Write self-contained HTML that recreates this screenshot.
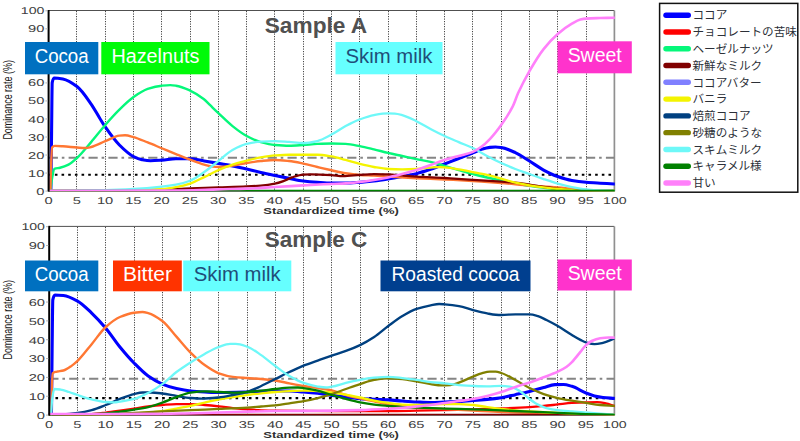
<!DOCTYPE html>
<html lang="en">
<head>
<meta charset="utf-8">
<title>TDS curves – Sample A / Sample C</title>
<style>
html,body{margin:0;padding:0;background:#fff;}
body{width:800px;height:441px;overflow:hidden;font-family:"Liberation Sans",sans-serif;}
svg{display:block;}
text{font-family:"Liberation Sans",sans-serif;}
.grid{stroke:#444;stroke-width:1;stroke-dasharray:1.2 1.3;}
.cv{fill:none;stroke-width:2.3;stroke-linejoin:round;stroke-linecap:round;}
.sig20{stroke:#858585;stroke-width:2.0;stroke-dasharray:9.2 3.9 2.6 4.2;}
.sig10{stroke:#000;stroke-width:2.2;stroke-dasharray:2.6 4.07;}
.tk{font-size:9.9px;fill:#404040;text-rendering:geometricPrecision;}
.xl{font-size:9.4px;font-weight:bold;fill:#2e2e2e;}
.yl{font-size:12.4px;fill:#161616;}
.tt{font-size:21.5px;font-weight:bold;fill:#505050;}
.bx{}
.lg{font-family:"Liberation Sans","Noto Sans CJK JP",sans-serif;font-size:11.6px;fill:#2c3038;}
</style>
</head>
<body>
<svg width="800" height="441" viewBox="0 0 800 441">
<rect width="800" height="441" fill="#fff"/>
<g id="chartA">
<line x1="76.5" y1="11" x2="76.5" y2="190.80" class="grid"/>
<line x1="105.5" y1="11" x2="105.5" y2="190.80" class="grid"/>
<line x1="133.5" y1="11" x2="133.5" y2="190.80" class="grid"/>
<line x1="161.5" y1="11" x2="161.5" y2="190.80" class="grid"/>
<line x1="190.5" y1="11" x2="190.5" y2="190.80" class="grid"/>
<line x1="218.5" y1="11" x2="218.5" y2="190.80" class="grid"/>
<line x1="246.5" y1="11" x2="246.5" y2="190.80" class="grid"/>
<line x1="274.5" y1="11" x2="274.5" y2="190.80" class="grid"/>
<line x1="303.5" y1="11" x2="303.5" y2="190.80" class="grid"/>
<line x1="331.5" y1="11" x2="331.5" y2="190.80" class="grid"/>
<line x1="359.5" y1="11" x2="359.5" y2="190.80" class="grid"/>
<line x1="388.5" y1="11" x2="388.5" y2="190.80" class="grid"/>
<line x1="416.5" y1="11" x2="416.5" y2="190.80" class="grid"/>
<line x1="444.5" y1="11" x2="444.5" y2="190.80" class="grid"/>
<line x1="472.5" y1="11" x2="472.5" y2="190.80" class="grid"/>
<line x1="501.5" y1="11" x2="501.5" y2="190.80" class="grid"/>
<line x1="529.5" y1="11" x2="529.5" y2="190.80" class="grid"/>
<line x1="557.5" y1="11" x2="557.5" y2="190.80" class="grid"/>
<line x1="586.5" y1="11" x2="586.5" y2="190.80" class="grid"/>
<line x1="47.70" y1="10.50" x2="614.30" y2="10.50" stroke="#505050" stroke-width="1"/>
<line x1="614.40" y1="10.50" x2="614.40" y2="191.30" stroke="#909090" stroke-width="1.7"/>
<line x1="48.70" y1="191.10" x2="614.30" y2="191.10" stroke="#202020" stroke-width="1"/>
<line x1="48.70" y1="157.71" x2="614.30" y2="157.71" class="sig20"/>
<line x1="48.20" y1="174.75" x2="614.30" y2="174.75" class="sig10"/>
<clipPath id="clip10"><rect x="47.70" y="10.50" width="567.10" height="180.75"/></clipPath>
<g clip-path="url(#clip10)">
<path d="M50.85 190.80C51.08 172.77 51.30 154.74 51.53 136.71C51.75 118.68 51.98 83.77 52.21 82.62C52.92 78.98 53.64 77.93 54.36 77.93C57.18 77.93 60.01 78.46 62.84 79.01C67.55 79.94 72.27 83.06 76.98 86.59C81.69 90.11 86.41 97.36 91.12 104.08C93.95 108.11 96.78 113.40 99.60 117.96C101.49 121.00 103.37 124.26 105.26 126.97C109.97 133.76 114.69 140.31 119.40 145.00C124.11 149.69 128.83 154.26 133.54 156.54C136.37 157.92 139.20 159.08 142.02 159.61C144.85 160.14 147.68 160.69 150.51 160.69C154.28 160.69 158.05 160.39 161.82 160.15C166.53 159.85 171.25 158.71 175.96 158.71C180.67 158.71 185.39 158.71 190.10 158.71C194.81 158.71 199.53 160.27 204.24 161.05C208.95 161.83 213.67 162.58 218.38 163.39C223.09 164.20 227.81 165.00 232.52 165.92C237.23 166.84 241.95 167.91 246.66 168.98C251.37 170.06 256.09 171.33 260.80 172.41C265.51 173.49 270.23 174.48 274.94 175.47C279.65 176.47 284.37 177.43 289.08 178.36C293.79 179.29 298.51 180.49 303.22 181.06C307.93 181.64 312.65 182.02 317.36 182.33C322.07 182.63 326.79 183.05 331.50 183.05C336.21 183.05 340.93 183.05 345.64 183.05C350.35 183.05 355.07 182.63 359.78 182.33C364.49 182.02 369.21 181.58 373.92 181.06C378.63 180.55 383.35 179.82 388.06 179.08C392.77 178.34 397.49 177.45 402.20 176.56C406.91 175.66 411.63 174.83 416.34 173.67C421.05 172.52 425.77 170.95 430.48 169.34C435.19 167.74 439.91 165.74 444.62 163.94C449.33 162.13 454.05 160.36 458.76 158.53C463.47 156.69 468.19 154.87 472.90 152.94C475.73 151.78 478.56 150.18 481.38 149.33C484.21 148.48 487.04 147.62 489.87 147.35C491.75 147.17 493.64 146.99 495.52 146.99C497.41 146.99 499.29 147.27 501.18 147.53C505.89 148.18 510.61 150.47 515.32 152.58C520.03 154.69 524.75 158.14 529.46 161.05C534.17 163.96 538.89 167.55 543.60 170.07C548.31 172.58 553.03 174.91 557.74 176.56C562.45 178.20 567.17 179.70 571.88 180.52C576.59 181.35 581.31 181.93 586.02 182.33C590.73 182.73 595.45 182.96 600.16 183.23C604.87 183.49 609.59 183.71 614.30 183.95" class="cv" stroke="#0000ff" style="stroke-width:3.1"/>
<path d="M50.40 190.80C50.96 186.59 51.53 181.23 52.09 178.18C52.85 174.11 53.60 169.12 54.36 168.80C56.24 168.01 58.13 168.18 60.01 167.72C62.84 167.03 65.67 166.06 68.50 164.66C71.32 163.26 74.15 160.56 76.98 157.99C81.69 153.69 86.41 147.61 91.12 142.12C95.83 136.63 100.55 130.38 105.26 124.99C109.97 119.60 114.69 114.28 119.40 109.67C124.11 105.05 128.83 100.34 133.54 97.04C138.25 93.75 142.97 90.48 147.68 88.93C152.39 87.39 157.11 86.13 161.82 85.69C164.65 85.42 167.48 85.14 170.30 85.14C172.19 85.14 174.07 85.42 175.96 85.69C180.67 86.34 185.39 88.46 190.10 90.55C194.62 92.57 199.15 95.52 203.67 99.03C205.75 100.64 207.82 102.99 209.90 104.98C212.72 107.68 215.55 110.44 218.38 113.09C223.09 117.51 227.81 122.32 232.52 126.07C237.23 129.82 241.95 133.46 246.66 135.99C251.37 138.51 256.09 140.81 260.80 142.12C265.51 143.43 270.23 144.62 274.94 145.00C279.65 145.39 284.37 145.73 289.08 145.73C293.79 145.73 298.51 145.29 303.22 145.00C307.93 144.72 312.65 144.10 317.36 143.92C322.07 143.74 326.79 143.56 331.50 143.56C336.21 143.56 340.93 143.72 345.64 143.92C350.35 144.13 355.07 145.22 359.78 146.09C364.49 146.95 369.21 148.19 373.92 149.33C378.63 150.47 383.35 151.83 388.06 152.94C392.77 154.04 397.49 154.98 402.20 156.00C406.91 157.02 411.63 158.08 416.34 159.07C421.05 160.06 425.77 160.84 430.48 161.95C435.19 163.07 439.91 164.57 444.62 165.92C449.33 167.27 454.05 168.71 458.76 170.07C463.47 171.42 468.19 172.81 472.90 174.03C477.61 175.26 482.33 176.38 487.04 177.46C491.75 178.54 496.47 179.53 501.18 180.52C505.89 181.51 510.61 182.51 515.32 183.41C520.03 184.31 524.75 185.23 529.46 185.93C534.17 186.63 538.89 187.20 543.60 187.73C548.31 188.27 553.03 188.77 557.74 189.18C562.45 189.59 567.17 190.02 571.88 190.26C576.59 190.50 581.31 190.80 586.02 190.80C595.45 190.80 604.87 190.80 614.30 190.80" class="cv" stroke="#05f77a" style="stroke-width:2.4"/>
<path d="M50.40 190.80C50.62 182.39 50.85 171.12 51.08 165.56C51.41 157.22 51.75 147.97 52.09 147.53C53.04 146.30 53.98 145.91 54.92 145.91C57.56 145.91 60.20 146.11 62.84 146.27C67.55 146.54 72.27 147.18 76.98 147.53C79.81 147.74 82.64 148.07 85.46 148.07C87.35 148.07 89.23 147.45 91.12 146.99C95.83 145.82 100.55 143.11 105.26 141.22C109.97 139.32 114.69 136.10 119.40 135.63C121.29 135.44 123.17 135.27 125.06 135.27C127.88 135.27 130.71 136.32 133.54 137.07C138.25 138.33 142.97 140.62 147.68 142.48C152.39 144.34 157.11 146.33 161.82 148.25C166.53 150.17 171.25 152.13 175.96 154.02C180.67 155.91 185.39 157.84 190.10 159.61C194.81 161.38 199.53 163.35 204.24 164.66C207.07 165.44 209.90 166.37 212.72 166.64C214.61 166.82 216.49 167.00 218.38 167.00C223.09 167.00 227.81 166.17 232.52 165.56C237.23 164.95 241.95 163.77 246.66 163.03C251.37 162.29 256.09 161.52 260.80 161.05C265.51 160.58 270.23 159.97 274.94 159.97C279.65 159.97 284.37 160.55 289.08 161.05C293.79 161.56 298.51 162.61 303.22 163.57C307.93 164.54 312.65 165.89 317.36 167.00C322.07 168.11 326.79 169.19 331.50 170.25C336.21 171.30 340.93 172.60 345.64 173.31C350.35 174.02 355.07 174.60 359.78 174.93C364.49 175.27 369.21 175.39 373.92 175.65C378.63 175.92 383.35 176.27 388.06 176.56C397.49 177.13 406.91 177.71 416.34 178.18C425.77 178.65 435.19 178.97 444.62 179.44C454.05 179.91 463.47 180.47 472.90 181.06C482.33 181.66 491.75 182.31 501.18 183.05C510.61 183.79 520.03 184.83 529.46 185.57C538.89 186.31 548.31 186.75 557.74 187.55C562.45 187.95 567.17 188.52 571.88 189.00C576.59 189.48 581.31 190.21 586.02 190.44C589.79 190.62 593.56 190.80 597.33 190.80C602.99 190.80 608.64 190.80 614.30 190.80" class="cv" stroke="#ff7733" style="stroke-width:2.4"/>
<path d="M48.70 190.80C76.98 190.62 105.26 190.58 133.54 190.26C142.97 190.15 152.39 189.84 161.82 189.54C171.25 189.23 180.67 188.63 190.10 188.28C199.53 187.93 208.95 187.67 218.38 187.37C227.81 187.07 237.23 186.89 246.66 186.47C251.37 186.26 256.09 185.98 260.80 185.57C265.51 185.16 270.23 184.51 274.94 183.59C277.77 183.03 280.60 182.05 283.42 181.06C286.25 180.07 289.08 178.37 291.91 177.46C295.68 176.24 299.45 174.72 303.22 174.57C306.05 174.47 308.88 174.39 311.70 174.39C318.30 174.39 324.90 174.75 331.50 175.11C335.27 175.32 339.04 176.20 342.81 176.20C348.47 176.20 354.12 175.32 359.78 174.93C364.49 174.61 369.21 174.03 373.92 174.03C378.63 174.03 383.35 174.21 388.06 174.39C392.77 174.57 397.49 175.11 402.20 175.47C406.91 175.84 411.63 176.26 416.34 176.56C425.77 177.15 435.19 177.46 444.62 178.00C454.05 178.53 463.47 179.20 472.90 179.80C482.33 180.40 491.75 180.94 501.18 181.60C505.89 181.94 510.61 182.22 515.32 182.69C520.03 183.15 524.75 183.95 529.46 184.67C534.17 185.39 538.89 186.37 543.60 187.01C548.31 187.65 553.03 188.13 557.74 188.64C562.45 189.15 567.17 189.76 571.88 190.08C576.59 190.40 581.31 190.80 586.02 190.80C595.45 190.80 604.87 190.80 614.30 190.80" class="cv" stroke="#800000"/>
<path d="M48.70 190.80C76.98 190.68 105.26 190.70 133.54 190.44C142.97 190.35 152.39 189.74 161.82 189.00C166.53 188.63 171.25 187.85 175.96 187.01C180.67 186.18 185.39 185.08 190.10 183.59C194.81 182.09 199.53 179.35 204.24 177.10C208.95 174.85 213.67 172.10 218.38 170.07C223.09 168.03 227.81 166.18 232.52 164.66C237.23 163.13 241.95 161.88 246.66 160.69C251.37 159.50 256.09 158.27 260.80 157.44C265.51 156.62 270.23 155.81 274.94 155.46C279.65 155.11 284.37 154.74 289.08 154.74C293.79 154.74 298.51 154.74 303.22 154.74C307.93 154.74 312.65 154.74 317.36 154.74C322.07 154.74 326.79 155.62 331.50 156.36C336.21 157.11 340.93 158.71 345.64 159.97C350.35 161.23 355.07 162.78 359.78 163.94C364.49 165.09 369.21 166.20 373.92 167.00C378.63 167.80 383.35 168.78 388.06 168.98C392.77 169.19 397.49 169.34 402.20 169.34C406.91 169.34 411.63 169.18 416.34 168.98C421.05 168.79 425.77 167.90 430.48 167.54C433.31 167.32 436.14 167.00 438.96 167.00C440.85 167.00 442.73 167.20 444.62 167.36C449.33 167.75 454.05 168.58 458.76 169.34C463.47 170.11 468.19 171.12 472.90 172.05C477.61 172.98 482.33 173.87 487.04 174.93C491.75 176.00 496.47 177.25 501.18 178.54C505.89 179.83 510.61 181.60 515.32 182.69C520.03 183.78 524.75 184.63 529.46 185.39C534.17 186.15 538.89 186.78 543.60 187.37C548.31 187.97 553.03 188.56 557.74 189.00C562.45 189.43 567.17 189.79 571.88 190.08C576.59 190.37 581.31 190.80 586.02 190.80C595.45 190.80 604.87 190.80 614.30 190.80" class="cv" stroke="#f4f400"/>
<path d="M48.70 190.80C67.55 190.56 86.41 190.46 105.26 190.08C114.69 189.89 124.11 189.49 133.54 189.00C142.97 188.50 152.39 187.66 161.82 186.65C166.53 186.15 171.25 185.55 175.96 184.67C180.67 183.79 185.39 182.52 190.10 180.70C194.81 178.89 199.53 175.28 204.24 172.05C208.95 168.82 213.67 164.72 218.38 161.05C223.09 157.38 227.81 152.68 232.52 150.05C237.23 147.43 241.95 145.05 246.66 143.92C251.37 142.79 256.09 141.87 260.80 141.58C265.51 141.29 270.23 141.04 274.94 141.04C279.65 141.04 284.37 141.61 289.08 141.94C293.79 142.27 298.51 143.02 303.22 143.02C307.93 143.02 312.65 142.05 317.36 141.04C322.07 140.02 326.79 137.00 331.50 134.55C336.21 132.10 340.93 128.56 345.64 126.07C350.35 123.58 355.07 121.15 359.78 119.40C364.49 117.65 369.21 115.86 373.92 115.07C378.63 114.29 383.35 113.45 388.06 113.45C390.32 113.45 392.58 113.53 394.85 113.63C397.30 113.75 399.75 114.44 402.20 115.07C406.91 116.30 411.63 118.92 416.34 121.20C421.05 123.49 425.77 126.50 430.48 128.96C435.19 131.42 439.91 133.81 444.62 135.99C449.33 138.17 454.05 140.11 458.76 142.12C463.47 144.13 468.19 145.80 472.90 148.07C477.61 150.34 482.33 153.52 487.04 156.00C491.75 158.49 496.47 160.89 501.18 163.03C505.89 165.18 510.61 167.16 515.32 168.98C520.03 170.80 524.75 172.35 529.46 174.03C534.17 175.71 538.89 177.49 543.60 179.08C548.31 180.67 553.03 182.29 557.74 183.59C562.45 184.89 567.17 186.09 571.88 187.01C576.59 187.94 581.31 188.86 586.02 189.36C590.73 189.85 595.45 190.26 600.16 190.44C604.87 190.62 609.59 190.68 614.30 190.80" class="cv" stroke="#6ef8f8"/>
<path d="M48.70 190.80 L614.30 190.80" class="cv" stroke="#008000"/>
<path d="M48.70 190.80C86.41 190.74 124.11 190.74 161.82 190.62C169.36 190.60 176.90 190.53 184.44 190.44C195.76 190.30 207.07 189.68 218.38 189.36C227.81 189.09 237.23 188.97 246.66 188.64C256.09 188.30 265.51 187.55 274.94 187.01C284.37 186.47 293.79 185.90 303.22 185.39C312.65 184.88 322.07 184.35 331.50 183.95C336.21 183.75 340.93 183.67 345.64 183.41C350.35 183.15 355.07 182.52 359.78 181.97C364.49 181.41 369.21 180.72 373.92 179.98C378.63 179.24 383.35 178.43 388.06 177.46C392.77 176.49 397.49 175.26 402.20 174.03C406.91 172.81 411.63 171.55 416.34 170.07C421.05 168.58 425.77 166.70 430.48 165.02C435.19 163.33 439.91 161.45 444.62 159.97C449.33 158.49 454.05 157.23 458.76 156.00C460.46 155.56 462.15 155.21 463.85 154.74C466.87 153.91 469.88 153.11 472.90 151.86C475.73 150.68 478.56 148.85 481.38 146.81C484.21 144.77 487.04 142.01 489.87 139.05C493.64 135.11 497.41 130.26 501.18 124.99C504.95 119.72 508.72 114.42 512.49 106.96C514.38 103.23 516.26 97.22 518.15 93.08C521.92 84.79 525.69 77.63 529.46 71.08C534.17 62.90 538.89 55.06 543.60 49.08C548.31 43.10 553.03 38.02 557.74 33.94C562.45 29.86 567.17 26.37 571.88 23.66C574.71 22.04 577.54 20.17 580.36 19.52C582.25 19.08 584.13 18.74 586.02 18.61C590.73 18.29 595.45 18.22 600.16 18.07C604.87 17.93 609.59 17.83 614.30 17.71" class="cv" stroke="#ff80fa" style="stroke-width:2.6"/>
</g>
<line x1="48.60" y1="10.00" x2="48.60" y2="191.60" stroke="#000" stroke-width="2"/>
</g>
<g id="chartC">
<line x1="77.5" y1="227" x2="77.5" y2="414.80" class="grid"/>
<line x1="105.5" y1="227" x2="105.5" y2="414.80" class="grid"/>
<line x1="134.5" y1="227" x2="134.5" y2="414.80" class="grid"/>
<line x1="162.5" y1="227" x2="162.5" y2="414.80" class="grid"/>
<line x1="190.5" y1="227" x2="190.5" y2="414.80" class="grid"/>
<line x1="218.5" y1="227" x2="218.5" y2="414.80" class="grid"/>
<line x1="247.5" y1="227" x2="247.5" y2="414.80" class="grid"/>
<line x1="275.5" y1="227" x2="275.5" y2="414.80" class="grid"/>
<line x1="303.5" y1="227" x2="303.5" y2="414.80" class="grid"/>
<line x1="331.5" y1="227" x2="331.5" y2="414.80" class="grid"/>
<line x1="360.5" y1="227" x2="360.5" y2="414.80" class="grid"/>
<line x1="388.5" y1="227" x2="388.5" y2="414.80" class="grid"/>
<line x1="416.5" y1="227" x2="416.5" y2="414.80" class="grid"/>
<line x1="444.5" y1="227" x2="444.5" y2="414.80" class="grid"/>
<line x1="473.5" y1="227" x2="473.5" y2="414.80" class="grid"/>
<line x1="501.5" y1="227" x2="501.5" y2="414.80" class="grid"/>
<line x1="529.5" y1="227" x2="529.5" y2="414.80" class="grid"/>
<line x1="557.5" y1="227" x2="557.5" y2="414.80" class="grid"/>
<line x1="586.5" y1="227" x2="586.5" y2="414.80" class="grid"/>
<line x1="48.30" y1="226.40" x2="614.30" y2="226.40" stroke="#505050" stroke-width="1"/>
<line x1="614.40" y1="226.40" x2="614.40" y2="415.30" stroke="#909090" stroke-width="1.7"/>
<line x1="49.30" y1="415.10" x2="614.30" y2="415.10" stroke="#202020" stroke-width="1"/>
<line x1="49.30" y1="378.63" x2="614.30" y2="378.63" class="sig20"/>
<line x1="48.80" y1="398.03" x2="614.30" y2="398.03" class="sig10"/>
<clipPath id="clip226"><rect x="48.30" y="226.40" width="566.50" height="188.85"/></clipPath>
<g clip-path="url(#clip226)">
<path d="M51.45 414.80C51.67 392.82 51.90 367.60 52.12 348.86C52.35 330.12 52.58 301.07 52.80 299.88C53.52 296.10 54.23 294.98 54.95 294.98C57.77 294.98 60.60 295.24 63.42 295.54C68.13 296.05 72.84 298.50 77.55 301.01C82.26 303.51 86.97 308.60 91.67 313.06C96.38 317.53 101.09 322.55 105.80 328.14C110.51 333.72 115.22 341.21 119.92 346.98C124.63 352.75 129.34 358.21 134.05 362.99C138.76 367.77 143.47 372.66 148.18 375.99C152.88 379.32 157.59 382.16 162.30 384.09C167.01 386.03 171.72 387.55 176.43 388.61C181.13 389.67 185.84 390.61 190.55 391.06C195.26 391.52 199.97 391.77 204.68 392.00C209.38 392.24 214.09 392.57 218.80 392.57C228.22 392.57 237.63 392.27 247.05 392.00C256.47 391.74 265.88 390.68 275.30 390.68C280.01 390.68 284.72 390.88 289.43 391.06C294.13 391.24 298.84 391.64 303.55 392.00C308.26 392.37 312.97 392.79 317.68 393.32C322.38 393.86 327.09 394.77 331.80 395.39C336.51 396.02 341.22 396.56 345.93 397.09C350.63 397.62 355.34 398.26 360.05 398.60C364.76 398.93 369.47 399.14 374.18 399.35C378.88 399.57 383.59 399.67 388.30 399.92C393.01 400.17 397.72 400.70 402.43 401.05C407.13 401.39 411.84 401.75 416.55 401.99C421.26 402.22 425.97 402.55 430.68 402.55C435.38 402.55 440.09 402.18 444.80 401.99C449.51 401.80 454.22 401.66 458.93 401.42C463.63 401.19 468.34 400.82 473.05 400.48C477.76 400.14 482.47 399.80 487.18 399.35C491.88 398.90 496.59 398.38 501.30 397.66C506.01 396.93 510.72 395.68 515.42 394.64C520.13 393.61 524.84 392.62 529.55 391.44C534.26 390.26 538.97 388.72 543.67 387.48C547.44 386.49 551.21 384.80 554.98 384.66C557.80 384.55 560.62 384.47 563.45 384.47C566.27 384.47 569.10 385.53 571.92 386.35C576.63 387.73 581.34 391.07 586.05 392.95C588.88 394.07 591.70 395.29 594.52 395.96C597.35 396.63 600.17 397.14 603.00 397.47C606.77 397.90 610.53 398.10 614.30 398.41" class="cv" stroke="#0000ff" style="stroke-width:3.1"/>
<path d="M49.30 414.80C58.72 414.74 68.13 414.73 77.55 414.61C82.26 414.55 86.97 414.32 91.67 414.05C96.38 413.77 101.09 413.10 105.80 412.54C110.51 411.98 115.22 411.31 119.92 410.66C124.63 410.00 129.34 409.27 134.05 408.58C138.76 407.89 143.47 407.09 148.18 406.51C152.88 405.93 157.59 405.39 162.30 405.00C167.01 404.62 171.72 404.06 176.43 404.06C181.13 404.06 185.84 404.06 190.55 404.06C195.26 404.06 199.97 404.64 204.68 405.00C209.38 405.37 214.09 405.83 218.80 406.32C223.51 406.82 228.22 407.52 232.93 408.02C237.63 408.51 242.34 408.97 247.05 409.34C251.76 409.70 256.47 410.10 261.18 410.28C265.88 410.46 270.59 410.60 275.30 410.66C294.13 410.88 312.97 411.03 331.80 411.03C350.63 411.03 369.47 411.03 388.30 411.03C397.72 411.03 407.13 410.81 416.55 410.66C425.97 410.50 435.38 410.31 444.80 410.09C454.22 409.87 463.63 409.62 473.05 409.34C482.47 409.06 491.88 408.76 501.30 408.39C510.72 408.03 520.13 407.65 529.55 407.08C534.26 406.79 538.97 406.38 543.67 405.95C548.38 405.51 553.09 404.94 557.80 404.44C562.51 403.94 567.22 403.20 571.92 402.93C576.63 402.66 581.34 402.47 586.05 402.37C589.82 402.28 593.58 402.18 597.35 402.18C600.17 402.18 603.00 402.78 605.82 403.31C608.65 403.84 611.47 405.07 614.30 405.95" class="cv" stroke="#ff0000"/>
<path d="M50.99 414.80C51.22 407.26 51.45 397.68 51.67 392.19C52.01 383.96 52.35 373.76 52.69 373.35C53.63 372.21 54.57 372.08 55.52 371.84C56.27 371.66 57.02 371.59 57.77 371.47C59.66 371.15 61.54 371.00 63.42 370.53C66.25 369.82 69.08 367.58 71.90 365.63C73.78 364.33 75.67 362.72 77.55 360.92C82.26 356.42 86.97 349.80 91.67 344.15C96.38 338.50 101.09 331.21 105.80 327.01C110.51 322.80 115.22 319.03 119.92 317.02C124.63 315.01 129.34 313.31 134.05 312.69C136.88 312.31 139.70 311.93 142.52 311.93C144.41 311.93 146.29 312.54 148.18 313.06C152.88 314.36 157.59 317.47 162.30 320.98C167.01 324.48 171.72 331.34 176.43 336.61C181.13 341.89 185.84 347.96 190.55 352.63C195.26 357.29 199.97 361.75 204.68 365.06C209.38 368.38 214.09 371.69 218.80 373.35C223.51 375.02 228.22 376.36 232.93 376.93C237.63 377.50 242.34 377.72 247.05 378.06C251.76 378.40 256.47 378.62 261.18 379.00C265.88 379.39 270.59 379.86 275.30 380.51C280.01 381.17 284.72 382.43 289.43 383.34C294.13 384.25 298.84 385.20 303.55 385.97C308.26 386.75 312.97 387.30 317.68 388.05C322.38 388.80 327.09 389.44 331.80 390.50C336.51 391.56 341.22 393.73 345.93 395.02C350.63 396.31 355.34 397.35 360.05 398.41C364.76 399.47 369.47 400.49 374.18 401.42C378.88 402.36 383.59 403.33 388.30 404.06C393.01 404.79 397.72 405.39 402.43 405.95C407.13 406.50 411.84 407.10 416.55 407.45C425.97 408.15 435.38 408.46 444.80 408.96C454.22 409.46 463.63 409.96 473.05 410.47C482.47 410.97 491.88 411.59 501.30 411.97C510.72 412.36 520.13 412.60 529.55 412.92C538.97 413.23 548.38 413.62 557.80 413.86C567.22 414.09 576.63 414.27 586.05 414.42C595.47 414.57 604.88 414.67 614.30 414.80" class="cv" stroke="#ff7733" style="stroke-width:2.4"/>
<path d="M49.30 414.80 L614.30 414.80" class="cv" stroke="#800000"/>
<path d="M49.30 414.80C68.13 414.74 86.97 414.74 105.80 414.61C115.22 414.55 124.63 414.00 134.05 413.48C143.47 412.97 152.88 412.16 162.30 411.03C167.01 410.47 171.72 409.43 176.43 408.58C181.13 407.74 185.84 406.93 190.55 405.95C195.26 404.96 199.97 403.65 204.68 402.55C209.38 401.46 214.09 400.23 218.80 399.35C223.51 398.47 228.22 397.81 232.93 397.09C237.63 396.37 242.34 395.64 247.05 395.02C251.76 394.40 256.47 393.82 261.18 393.32C265.88 392.83 270.59 392.37 275.30 392.00C280.01 391.64 284.72 391.24 289.43 391.06C294.13 390.88 298.84 390.68 303.55 390.68C308.26 390.68 312.97 390.86 317.68 391.06C322.38 391.26 327.09 391.99 331.80 392.57C336.51 393.15 341.22 393.84 345.93 394.64C350.63 395.44 355.34 396.47 360.05 397.47C364.76 398.47 369.47 399.79 374.18 400.67C378.88 401.55 383.59 402.28 388.30 402.93C393.01 403.58 397.72 404.42 402.43 404.63C407.13 404.83 411.84 405.00 416.55 405.00C421.26 405.00 425.97 404.78 430.68 404.63C435.38 404.48 440.09 404.06 444.80 404.06C449.51 404.06 454.22 404.06 458.93 404.06C463.63 404.06 468.34 404.57 473.05 405.00C477.76 405.43 482.47 406.42 487.18 407.08C491.88 407.73 496.59 408.40 501.30 408.96C506.01 409.52 510.72 410.08 515.42 410.47C520.13 410.85 524.84 411.13 529.55 411.41C538.97 411.97 548.38 412.49 557.80 412.92C567.22 413.35 576.63 413.74 586.05 414.05C595.47 414.35 604.88 414.55 614.30 414.80" class="cv" stroke="#f4f400"/>
<path d="M49.30 414.80C54.01 414.67 58.72 414.62 63.42 414.42C68.13 414.22 72.84 413.57 77.55 412.92C82.26 412.26 86.97 411.30 91.67 410.09C96.38 408.88 101.09 406.84 105.80 405.00C110.51 403.16 115.22 400.78 119.92 398.97C124.63 397.17 129.34 395.15 134.05 394.08C136.88 393.43 139.70 392.57 142.52 392.57C145.35 392.57 148.17 392.57 151.00 392.57C154.77 392.57 158.53 393.09 162.30 393.51C167.01 394.03 171.72 395.21 176.43 395.96C181.13 396.71 185.84 397.69 190.55 398.03C194.32 398.31 198.08 398.60 201.85 398.60C207.50 398.60 213.15 398.02 218.80 397.47C223.51 397.01 228.22 395.92 232.93 395.02C237.63 394.12 242.34 393.34 247.05 392.00C251.76 390.66 256.47 388.13 261.18 385.97C265.88 383.82 270.59 381.33 275.30 379.00C280.01 376.68 284.72 374.26 289.43 372.03C294.13 369.81 298.84 367.52 303.55 365.63C308.26 363.74 312.97 362.20 317.68 360.54C322.38 358.88 327.09 357.24 331.80 355.64C336.51 354.04 341.22 352.67 345.93 350.93C350.63 349.19 355.34 347.35 360.05 345.09C364.76 342.83 369.47 340.09 374.18 336.99C378.88 333.89 383.59 329.54 388.30 326.06C393.01 322.59 397.72 318.86 402.43 316.08C407.13 313.30 411.84 310.51 416.55 308.92C421.26 307.33 425.97 306.23 430.68 305.34C433.50 304.81 436.33 304.02 439.15 304.02C441.03 304.02 442.92 304.24 444.80 304.40C449.51 304.79 454.22 305.30 458.93 306.09C463.63 306.88 468.34 308.83 473.05 310.05C477.76 311.27 482.47 312.57 487.18 313.44C490.00 313.96 492.83 314.61 495.65 314.76C497.53 314.86 499.42 314.95 501.30 314.95C506.01 314.95 510.72 314.38 515.42 314.38C520.13 314.38 524.84 314.38 529.55 314.38C532.38 314.38 535.20 315.29 538.02 316.08C540.85 316.87 543.67 318.63 546.50 320.03C550.27 321.90 554.03 323.90 557.80 326.06C562.51 328.77 567.22 332.10 571.92 334.92C574.75 336.61 577.57 338.37 580.40 339.82C582.28 340.78 584.17 341.91 586.05 342.45C588.88 343.27 591.70 344.15 594.52 344.15C597.35 344.15 600.17 343.44 603.00 342.83C606.77 342.01 610.53 339.94 614.30 338.50" class="cv" stroke="#004080" style="stroke-width:2.4"/>
<path d="M49.30 414.80C58.72 414.74 68.13 414.71 77.55 414.61C86.97 414.52 96.38 414.30 105.80 414.05C115.22 413.80 124.63 413.35 134.05 412.92C143.47 412.49 152.88 411.88 162.30 411.41C171.72 410.94 181.13 410.50 190.55 410.09C199.97 409.68 209.38 409.37 218.80 408.96C228.22 408.55 237.63 408.21 247.05 407.64C251.76 407.35 256.47 406.89 261.18 406.51C265.88 406.13 270.59 405.87 275.30 405.38C280.01 404.89 284.72 404.03 289.43 403.31C294.13 402.59 298.84 401.91 303.55 401.05C308.26 400.19 312.97 399.17 317.68 398.03C322.38 396.89 327.09 395.56 331.80 394.08C336.51 392.59 341.22 390.65 345.93 388.99C350.63 387.33 355.34 385.59 360.05 384.09C364.76 382.59 369.47 380.68 374.18 379.95C378.88 379.21 383.59 378.44 388.30 378.44C393.01 378.44 397.72 378.70 402.43 379.00C407.13 379.31 411.84 380.61 416.55 381.45C421.26 382.30 425.97 383.42 430.68 384.09C434.44 384.63 438.21 385.41 441.98 385.41C444.80 385.41 447.62 385.25 450.45 385.03C453.27 384.82 456.10 383.54 458.93 382.58C463.63 380.99 468.34 378.43 473.05 376.55C475.88 375.43 478.70 374.09 481.53 373.35C484.35 372.61 487.18 371.66 490.00 371.66C491.88 371.66 493.77 371.66 495.65 371.66C497.53 371.66 499.42 372.41 501.30 372.98C506.01 374.39 510.72 377.45 515.42 379.95C520.13 382.44 524.84 385.74 529.55 388.05C534.26 390.35 538.97 392.48 543.67 394.08C548.38 395.67 553.09 396.98 557.80 398.03C562.51 399.09 567.22 399.86 571.92 400.67C576.63 401.48 581.34 402.21 586.05 402.93C590.76 403.65 595.47 404.57 600.17 405.00C604.88 405.43 609.59 405.63 614.30 405.95" class="cv" stroke="#808000"/>
<path d="M50.99 414.80C51.37 409.78 51.75 402.51 52.12 399.73C52.88 394.16 53.63 388.99 54.38 388.99C56.46 388.99 58.53 389.28 60.60 389.55C63.42 389.94 66.25 391.10 69.07 392.00C71.90 392.90 74.72 394.08 77.55 395.02C82.26 396.58 86.97 398.26 91.67 399.35C96.38 400.44 101.09 401.67 105.80 401.99C108.62 402.18 111.45 402.37 114.27 402.37C116.16 402.37 118.04 401.90 119.92 401.61C124.63 400.90 129.34 400.20 134.05 398.97C138.76 397.75 143.47 395.34 148.18 392.95C152.88 390.55 157.59 387.49 162.30 384.09C167.01 380.69 171.72 375.60 176.43 372.03C181.13 368.47 185.84 365.43 190.55 362.42C195.26 359.42 199.97 356.50 204.68 353.95C209.38 351.40 214.09 348.59 218.80 346.98C222.57 345.69 226.33 343.96 230.10 343.96C231.98 343.96 233.87 343.96 235.75 343.96C239.52 343.96 243.28 345.35 247.05 346.60C251.76 348.16 256.47 351.89 261.18 355.08C265.88 358.26 270.59 362.53 275.30 366.00C280.01 369.48 284.72 373.25 289.43 375.99C294.13 378.73 298.84 381.38 303.55 382.96C308.26 384.54 312.97 385.84 317.68 386.54C320.50 386.96 323.33 387.48 326.15 387.48C328.03 387.48 329.92 387.05 331.80 386.73C336.51 385.93 341.22 384.08 345.93 382.96C350.63 381.84 355.34 380.81 360.05 379.95C364.76 379.08 369.47 378.06 374.18 377.69C378.88 377.31 383.59 376.93 388.30 376.93C393.01 376.93 397.72 377.59 402.43 378.06C407.13 378.53 411.84 379.29 416.55 379.95C421.26 380.60 425.97 381.48 430.68 382.02C435.38 382.56 440.09 382.84 444.80 383.34C449.51 383.83 454.22 384.63 458.93 385.03C463.63 385.44 468.34 385.80 473.05 385.97C477.76 386.15 482.47 386.35 487.18 386.35C491.88 386.35 496.59 385.97 501.30 385.97C504.12 385.97 506.95 386.21 509.78 386.54C511.66 386.76 513.54 387.75 515.42 388.61C518.25 389.91 521.07 391.97 523.90 394.08C525.78 395.48 527.67 397.54 529.55 398.97C532.38 401.12 535.20 403.21 538.02 404.63C540.85 406.04 543.67 407.29 546.50 408.02C550.27 408.98 554.03 409.62 557.80 410.09C562.51 410.68 567.22 411.00 571.92 411.41C576.63 411.81 581.34 412.16 586.05 412.54C590.76 412.92 595.47 413.33 600.17 413.67C604.88 414.01 609.59 414.30 614.30 414.61" class="cv" stroke="#6ef8f8"/>
<path d="M49.30 414.80C58.72 414.74 68.13 414.72 77.55 414.61C86.97 414.50 96.38 414.10 105.80 413.48C110.51 413.17 115.22 412.26 119.92 411.60C124.63 410.94 129.34 410.27 134.05 409.52C138.76 408.78 143.47 408.13 148.18 407.08C152.88 406.02 157.59 404.20 162.30 402.55C167.01 400.90 171.72 398.74 176.43 397.09C181.13 395.44 185.84 393.17 190.55 392.57C195.26 391.97 199.97 391.44 204.68 391.44C209.38 391.44 214.09 391.82 218.80 392.00C223.51 392.19 228.22 392.57 232.93 392.57C237.63 392.57 242.34 392.27 247.05 392.00C251.76 391.74 256.47 391.18 261.18 390.68C265.88 390.19 270.59 389.48 275.30 388.99C280.01 388.49 284.72 387.83 289.43 387.67C292.25 387.57 295.07 387.48 297.90 387.48C299.78 387.48 301.67 387.81 303.55 388.05C308.26 388.64 312.97 389.59 317.68 390.68C322.38 391.78 327.09 393.64 331.80 395.02C336.51 396.40 341.22 397.76 345.93 398.97C350.63 400.19 355.34 401.46 360.05 402.37C364.76 403.27 369.47 404.07 374.18 404.63C378.88 405.18 383.59 405.54 388.30 405.95C393.01 406.35 397.72 406.82 402.43 407.08C407.13 407.33 411.84 407.47 416.55 407.64C425.97 407.99 435.38 408.30 444.80 408.58C454.22 408.86 463.63 409.03 473.05 409.34C482.47 409.64 491.88 410.09 501.30 410.47C510.72 410.84 520.13 411.19 529.55 411.60C538.97 412.00 548.38 412.51 557.80 412.92C567.22 413.32 576.63 413.74 586.05 414.05C595.47 414.35 604.88 414.55 614.30 414.80" class="cv" stroke="#008000"/>
<path d="M49.30 414.05C86.97 413.98 124.63 414.00 162.30 413.86C169.83 413.83 177.37 413.64 184.90 413.48C196.20 413.25 207.50 412.88 218.80 412.54C228.22 412.25 237.63 411.83 247.05 411.60C256.47 411.36 265.88 411.13 275.30 411.03C284.72 410.94 294.13 410.91 303.55 410.84C312.97 410.78 322.38 410.75 331.80 410.66C341.22 410.56 350.63 410.35 360.05 410.09C369.47 409.83 378.88 409.30 388.30 408.77C393.01 408.51 397.72 408.20 402.43 407.83C407.13 407.46 411.84 406.98 416.55 406.51C421.26 406.04 425.97 405.58 430.68 405.00C435.38 404.42 440.09 403.59 444.80 402.93C449.51 402.27 454.22 401.70 458.93 401.05C463.63 400.39 468.34 399.79 473.05 398.97C477.76 398.16 482.47 397.10 487.18 395.96C491.88 394.82 496.59 393.49 501.30 392.00C506.01 390.52 510.72 388.48 515.42 386.92C520.13 385.36 524.84 384.17 529.55 382.58C534.26 381.00 538.97 379.13 543.67 377.31C548.38 375.49 553.09 373.88 557.80 371.66C560.62 370.32 563.45 368.89 566.27 366.95C568.16 365.65 570.04 363.92 571.92 362.05C574.75 359.23 577.57 355.27 580.40 351.87C582.28 349.61 584.17 346.81 586.05 345.09C587.93 343.38 589.82 341.79 591.70 340.95C594.52 339.68 597.35 338.70 600.17 338.31C603.00 337.92 605.82 337.56 608.65 337.56C610.53 337.56 612.42 337.68 614.30 337.74" class="cv" stroke="#ff80fa" style="stroke-width:2.6"/>
</g>
<line x1="49.20" y1="225.90" x2="49.20" y2="415.60" stroke="#000" stroke-width="2"/>
</g>
<g id="ticks">
<text x="44.40" y="195.15" text-anchor="end" textLength="8.2" lengthAdjust="spacingAndGlyphs" class="tk">0</text>
<line x1="45.40" y1="191.10" x2="47.70" y2="191.10" stroke="#b4b4b4" stroke-width="1"/>
<text x="44.40" y="177.00" text-anchor="end" textLength="16.3" lengthAdjust="spacingAndGlyphs" class="tk">10</text>
<line x1="45.40" y1="173.07" x2="47.70" y2="173.07" stroke="#b4b4b4" stroke-width="1"/>
<text x="44.40" y="158.86" text-anchor="end" textLength="16.3" lengthAdjust="spacingAndGlyphs" class="tk">20</text>
<line x1="45.40" y1="155.04" x2="47.70" y2="155.04" stroke="#b4b4b4" stroke-width="1"/>
<text x="44.40" y="140.72" text-anchor="end" textLength="16.3" lengthAdjust="spacingAndGlyphs" class="tk">30</text>
<line x1="45.40" y1="137.01" x2="47.70" y2="137.01" stroke="#b4b4b4" stroke-width="1"/>
<text x="44.40" y="122.57" text-anchor="end" textLength="16.3" lengthAdjust="spacingAndGlyphs" class="tk">40</text>
<line x1="45.40" y1="118.98" x2="47.70" y2="118.98" stroke="#b4b4b4" stroke-width="1"/>
<text x="44.40" y="104.43" text-anchor="end" textLength="16.3" lengthAdjust="spacingAndGlyphs" class="tk">50</text>
<line x1="45.40" y1="100.95" x2="47.70" y2="100.95" stroke="#b4b4b4" stroke-width="1"/>
<text x="44.40" y="86.28" text-anchor="end" textLength="16.3" lengthAdjust="spacingAndGlyphs" class="tk">60</text>
<line x1="45.40" y1="82.92" x2="47.70" y2="82.92" stroke="#b4b4b4" stroke-width="1"/>
<text x="44.40" y="68.13" text-anchor="end" textLength="16.3" lengthAdjust="spacingAndGlyphs" class="tk">70</text>
<line x1="45.40" y1="64.89" x2="47.70" y2="64.89" stroke="#b4b4b4" stroke-width="1"/>
<text x="44.40" y="49.99" text-anchor="end" textLength="16.3" lengthAdjust="spacingAndGlyphs" class="tk">80</text>
<line x1="45.40" y1="46.86" x2="47.70" y2="46.86" stroke="#b4b4b4" stroke-width="1"/>
<text x="44.40" y="31.85" text-anchor="end" textLength="16.3" lengthAdjust="spacingAndGlyphs" class="tk">90</text>
<line x1="45.40" y1="28.83" x2="47.70" y2="28.83" stroke="#b4b4b4" stroke-width="1"/>
<text x="44.40" y="13.70" text-anchor="end" textLength="23.6" lengthAdjust="spacingAndGlyphs" class="tk">100</text>
<line x1="45.40" y1="10.80" x2="47.70" y2="10.80" stroke="#b4b4b4" stroke-width="1"/>
<text x="48.50" y="203.70" text-anchor="middle" textLength="8.2" lengthAdjust="spacingAndGlyphs" class="tk">0</text>
<text x="76.78" y="203.70" text-anchor="middle" textLength="8.2" lengthAdjust="spacingAndGlyphs" class="tk">5</text>
<text x="105.06" y="203.70" text-anchor="middle" textLength="16.3" lengthAdjust="spacingAndGlyphs" class="tk">10</text>
<text x="133.34" y="203.70" text-anchor="middle" textLength="16.3" lengthAdjust="spacingAndGlyphs" class="tk">15</text>
<text x="161.62" y="203.70" text-anchor="middle" textLength="16.3" lengthAdjust="spacingAndGlyphs" class="tk">20</text>
<text x="189.90" y="203.70" text-anchor="middle" textLength="16.3" lengthAdjust="spacingAndGlyphs" class="tk">25</text>
<text x="218.18" y="203.70" text-anchor="middle" textLength="16.3" lengthAdjust="spacingAndGlyphs" class="tk">30</text>
<text x="246.46" y="203.70" text-anchor="middle" textLength="16.3" lengthAdjust="spacingAndGlyphs" class="tk">35</text>
<text x="274.74" y="203.70" text-anchor="middle" textLength="16.3" lengthAdjust="spacingAndGlyphs" class="tk">40</text>
<text x="303.02" y="203.70" text-anchor="middle" textLength="16.3" lengthAdjust="spacingAndGlyphs" class="tk">45</text>
<text x="331.30" y="203.70" text-anchor="middle" textLength="16.3" lengthAdjust="spacingAndGlyphs" class="tk">50</text>
<text x="359.58" y="203.70" text-anchor="middle" textLength="16.3" lengthAdjust="spacingAndGlyphs" class="tk">55</text>
<text x="387.86" y="203.70" text-anchor="middle" textLength="16.3" lengthAdjust="spacingAndGlyphs" class="tk">60</text>
<text x="416.14" y="203.70" text-anchor="middle" textLength="16.3" lengthAdjust="spacingAndGlyphs" class="tk">65</text>
<text x="444.42" y="203.70" text-anchor="middle" textLength="16.3" lengthAdjust="spacingAndGlyphs" class="tk">70</text>
<text x="472.70" y="203.70" text-anchor="middle" textLength="16.3" lengthAdjust="spacingAndGlyphs" class="tk">75</text>
<text x="500.98" y="203.70" text-anchor="middle" textLength="16.3" lengthAdjust="spacingAndGlyphs" class="tk">80</text>
<text x="529.26" y="203.70" text-anchor="middle" textLength="16.3" lengthAdjust="spacingAndGlyphs" class="tk">85</text>
<text x="557.54" y="203.70" text-anchor="middle" textLength="16.3" lengthAdjust="spacingAndGlyphs" class="tk">90</text>
<text x="585.82" y="203.70" text-anchor="middle" textLength="16.3" lengthAdjust="spacingAndGlyphs" class="tk">95</text>
<text x="614.90" y="203.70" text-anchor="middle" textLength="23.6" lengthAdjust="spacingAndGlyphs" class="tk">100</text>
<text x="45.00" y="419.20" text-anchor="end" textLength="8.2" lengthAdjust="spacingAndGlyphs" class="tk">0</text>
<line x1="46.00" y1="415.10" x2="48.30" y2="415.10" stroke="#b4b4b4" stroke-width="1"/>
<text x="45.00" y="400.29" text-anchor="end" textLength="16.3" lengthAdjust="spacingAndGlyphs" class="tk">10</text>
<line x1="46.00" y1="396.26" x2="48.30" y2="396.26" stroke="#b4b4b4" stroke-width="1"/>
<text x="45.00" y="381.38" text-anchor="end" textLength="16.3" lengthAdjust="spacingAndGlyphs" class="tk">20</text>
<line x1="46.00" y1="377.42" x2="48.30" y2="377.42" stroke="#b4b4b4" stroke-width="1"/>
<text x="45.00" y="362.47" text-anchor="end" textLength="16.3" lengthAdjust="spacingAndGlyphs" class="tk">30</text>
<line x1="46.00" y1="358.58" x2="48.30" y2="358.58" stroke="#b4b4b4" stroke-width="1"/>
<text x="45.00" y="343.56" text-anchor="end" textLength="16.3" lengthAdjust="spacingAndGlyphs" class="tk">40</text>
<line x1="46.00" y1="339.74" x2="48.30" y2="339.74" stroke="#b4b4b4" stroke-width="1"/>
<text x="45.00" y="324.65" text-anchor="end" textLength="16.3" lengthAdjust="spacingAndGlyphs" class="tk">50</text>
<line x1="46.00" y1="320.90" x2="48.30" y2="320.90" stroke="#b4b4b4" stroke-width="1"/>
<text x="45.00" y="305.74" text-anchor="end" textLength="16.3" lengthAdjust="spacingAndGlyphs" class="tk">60</text>
<line x1="46.00" y1="302.06" x2="48.30" y2="302.06" stroke="#b4b4b4" stroke-width="1"/>
<text x="45.00" y="286.83" text-anchor="end" textLength="16.3" lengthAdjust="spacingAndGlyphs" class="tk">70</text>
<line x1="46.00" y1="283.22" x2="48.30" y2="283.22" stroke="#b4b4b4" stroke-width="1"/>
<text x="45.00" y="267.92" text-anchor="end" textLength="16.3" lengthAdjust="spacingAndGlyphs" class="tk">80</text>
<line x1="46.00" y1="264.38" x2="48.30" y2="264.38" stroke="#b4b4b4" stroke-width="1"/>
<text x="45.00" y="249.01" text-anchor="end" textLength="16.3" lengthAdjust="spacingAndGlyphs" class="tk">90</text>
<line x1="46.00" y1="245.54" x2="48.30" y2="245.54" stroke="#b4b4b4" stroke-width="1"/>
<text x="45.00" y="230.10" text-anchor="end" textLength="23.6" lengthAdjust="spacingAndGlyphs" class="tk">100</text>
<line x1="46.00" y1="226.70" x2="48.30" y2="226.70" stroke="#b4b4b4" stroke-width="1"/>
<text x="49.10" y="427.75" text-anchor="middle" textLength="8.2" lengthAdjust="spacingAndGlyphs" class="tk">0</text>
<text x="77.35" y="427.75" text-anchor="middle" textLength="8.2" lengthAdjust="spacingAndGlyphs" class="tk">5</text>
<text x="105.60" y="427.75" text-anchor="middle" textLength="16.3" lengthAdjust="spacingAndGlyphs" class="tk">10</text>
<text x="133.85" y="427.75" text-anchor="middle" textLength="16.3" lengthAdjust="spacingAndGlyphs" class="tk">15</text>
<text x="162.10" y="427.75" text-anchor="middle" textLength="16.3" lengthAdjust="spacingAndGlyphs" class="tk">20</text>
<text x="190.35" y="427.75" text-anchor="middle" textLength="16.3" lengthAdjust="spacingAndGlyphs" class="tk">25</text>
<text x="218.60" y="427.75" text-anchor="middle" textLength="16.3" lengthAdjust="spacingAndGlyphs" class="tk">30</text>
<text x="246.85" y="427.75" text-anchor="middle" textLength="16.3" lengthAdjust="spacingAndGlyphs" class="tk">35</text>
<text x="275.10" y="427.75" text-anchor="middle" textLength="16.3" lengthAdjust="spacingAndGlyphs" class="tk">40</text>
<text x="303.35" y="427.75" text-anchor="middle" textLength="16.3" lengthAdjust="spacingAndGlyphs" class="tk">45</text>
<text x="331.60" y="427.75" text-anchor="middle" textLength="16.3" lengthAdjust="spacingAndGlyphs" class="tk">50</text>
<text x="359.85" y="427.75" text-anchor="middle" textLength="16.3" lengthAdjust="spacingAndGlyphs" class="tk">55</text>
<text x="388.10" y="427.75" text-anchor="middle" textLength="16.3" lengthAdjust="spacingAndGlyphs" class="tk">60</text>
<text x="416.35" y="427.75" text-anchor="middle" textLength="16.3" lengthAdjust="spacingAndGlyphs" class="tk">65</text>
<text x="444.60" y="427.75" text-anchor="middle" textLength="16.3" lengthAdjust="spacingAndGlyphs" class="tk">70</text>
<text x="472.85" y="427.75" text-anchor="middle" textLength="16.3" lengthAdjust="spacingAndGlyphs" class="tk">75</text>
<text x="501.10" y="427.75" text-anchor="middle" textLength="16.3" lengthAdjust="spacingAndGlyphs" class="tk">80</text>
<text x="529.35" y="427.75" text-anchor="middle" textLength="16.3" lengthAdjust="spacingAndGlyphs" class="tk">85</text>
<text x="557.60" y="427.75" text-anchor="middle" textLength="16.3" lengthAdjust="spacingAndGlyphs" class="tk">90</text>
<text x="585.85" y="427.75" text-anchor="middle" textLength="16.3" lengthAdjust="spacingAndGlyphs" class="tk">95</text>
<text x="614.90" y="427.75" text-anchor="middle" textLength="23.6" lengthAdjust="spacingAndGlyphs" class="tk">100</text>
</g>
<text x="331" y="213.70" text-anchor="middle" textLength="135.5" lengthAdjust="spacingAndGlyphs" class="xl">Standardized time (%)</text>
<text transform="translate(11.5 99.85) rotate(-90)" text-anchor="middle" textLength="79.5" lengthAdjust="spacingAndGlyphs" class="yl">Dominance rate (%)</text>
<text x="331" y="437.70" text-anchor="middle" textLength="135.5" lengthAdjust="spacingAndGlyphs" class="xl">Standardized time (%)</text>
<text transform="translate(11.5 319.80) rotate(-90)" text-anchor="middle" textLength="79.5" lengthAdjust="spacingAndGlyphs" class="yl">Dominance rate (%)</text>
<text x="316" y="32.6" text-anchor="middle" textLength="102.5" lengthAdjust="spacingAndGlyphs" class="tt">Sample A</text>
<text x="316" y="246.9" text-anchor="middle" textLength="102.5" lengthAdjust="spacingAndGlyphs" class="tt">Sample C</text>
<g id="boxes">
<rect x="25.00" y="42.00" width="73.30" height="32.30" fill="#0070c0"/><text x="61.65" y="62.85" text-anchor="middle" textLength="54.0" lengthAdjust="spacingAndGlyphs" class="bx" font-size="19.5" fill="#fff">Cocoa</text>
<rect x="101.30" y="42.00" width="108.20" height="32.30" fill="#00fa08"/><text x="155.40" y="62.85" text-anchor="middle" textLength="88.0" lengthAdjust="spacingAndGlyphs" class="bx" font-size="19.5" fill="#fff">Hazelnuts</text>
<rect x="335.50" y="42.00" width="107.00" height="32.30" fill="#66ffff"/><text x="389.00" y="62.85" text-anchor="middle" textLength="87.0" lengthAdjust="spacingAndGlyphs" class="bx" font-size="19.5" fill="#1f4e79">Skim milk</text>
<rect x="557.50" y="41.30" width="74.30" height="32.00" fill="#ff33cc"/><text x="594.65" y="62.00" text-anchor="middle" textLength="54.0" lengthAdjust="spacingAndGlyphs" class="bx" font-size="19.5" fill="#fff">Sweet</text>
<rect x="25.00" y="260.50" width="73.30" height="30.80" fill="#0070c0"/><text x="61.65" y="280.60" text-anchor="middle" textLength="54.0" lengthAdjust="spacingAndGlyphs" class="bx" font-size="19.5" fill="#fff">Cocoa</text>
<rect x="113.00" y="260.50" width="68.80" height="30.80" fill="#ff3300"/><text x="147.40" y="280.60" text-anchor="middle" textLength="49.0" lengthAdjust="spacingAndGlyphs" class="bx" font-size="19.5" fill="#fff">Bitter</text>
<rect x="183.20" y="260.50" width="108.10" height="30.80" fill="#66ffff"/><text x="237.25" y="280.60" text-anchor="middle" textLength="87.0" lengthAdjust="spacingAndGlyphs" class="bx" font-size="19.5" fill="#1f4e79">Skim milk</text>
<rect x="380.50" y="260.50" width="150.00" height="30.80" fill="#003f8f"/><text x="455.50" y="280.60" text-anchor="middle" textLength="128.0" lengthAdjust="spacingAndGlyphs" class="bx" font-size="19.5" fill="#fff">Roasted cocoa</text>
<rect x="557.50" y="259.50" width="74.30" height="31.00" fill="#ff33cc"/><text x="594.65" y="279.70" text-anchor="middle" textLength="54.0" lengthAdjust="spacingAndGlyphs" class="bx" font-size="19.5" fill="#fff">Sweet</text>
</g>
<g id="legend">
<rect x="659.6" y="3.4" width="138.2" height="188.8" fill="#fff" stroke="#111" stroke-width="1.5"/>
<line x1="666" y1="15.20" x2="688.3" y2="15.20" stroke="#0000ff" stroke-width="5.4" stroke-linecap="round"/>
<text x="692.5" y="19.4" class="lg">ココア</text>
<line x1="666" y1="31.98" x2="688.3" y2="31.98" stroke="#ff0000" stroke-width="5.4" stroke-linecap="round"/>
<text x="692.5" y="36.2" class="lg">チョコレートの苦味</text>
<line x1="666" y1="48.76" x2="688.3" y2="48.76" stroke="#05f77a" stroke-width="5.4" stroke-linecap="round"/>
<text x="692.5" y="53.0" class="lg">ヘーゼルナッツ</text>
<line x1="666" y1="65.54" x2="688.3" y2="65.54" stroke="#800000" stroke-width="5.4" stroke-linecap="round"/>
<text x="692.5" y="69.8" class="lg">新鮮なミルク</text>
<line x1="666" y1="82.32" x2="688.3" y2="82.32" stroke="#8080ff" stroke-width="5.4" stroke-linecap="round"/>
<text x="692.5" y="86.5" class="lg">ココアバター</text>
<line x1="666" y1="99.10" x2="688.3" y2="99.10" stroke="#f4f400" stroke-width="5.4" stroke-linecap="round"/>
<text x="692.5" y="103.3" class="lg">バニラ</text>
<line x1="666" y1="115.88" x2="688.3" y2="115.88" stroke="#004080" stroke-width="5.4" stroke-linecap="round"/>
<text x="692.5" y="120.1" class="lg">焙煎ココア</text>
<line x1="666" y1="132.66" x2="688.3" y2="132.66" stroke="#808000" stroke-width="5.4" stroke-linecap="round"/>
<text x="692.5" y="136.9" class="lg">砂糖のような</text>
<line x1="666" y1="149.44" x2="688.3" y2="149.44" stroke="#6ef8f8" stroke-width="5.4" stroke-linecap="round"/>
<text x="692.5" y="153.7" class="lg">スキムミルク</text>
<line x1="666" y1="166.22" x2="688.3" y2="166.22" stroke="#008000" stroke-width="5.4" stroke-linecap="round"/>
<text x="692.5" y="170.4" class="lg">キャラメル様</text>
<line x1="666" y1="183.00" x2="688.3" y2="183.00" stroke="#ff80fa" stroke-width="5.4" stroke-linecap="round"/>
<text x="692.5" y="187.2" class="lg">甘い</text>
</g>
</svg>
</body>
</html>
